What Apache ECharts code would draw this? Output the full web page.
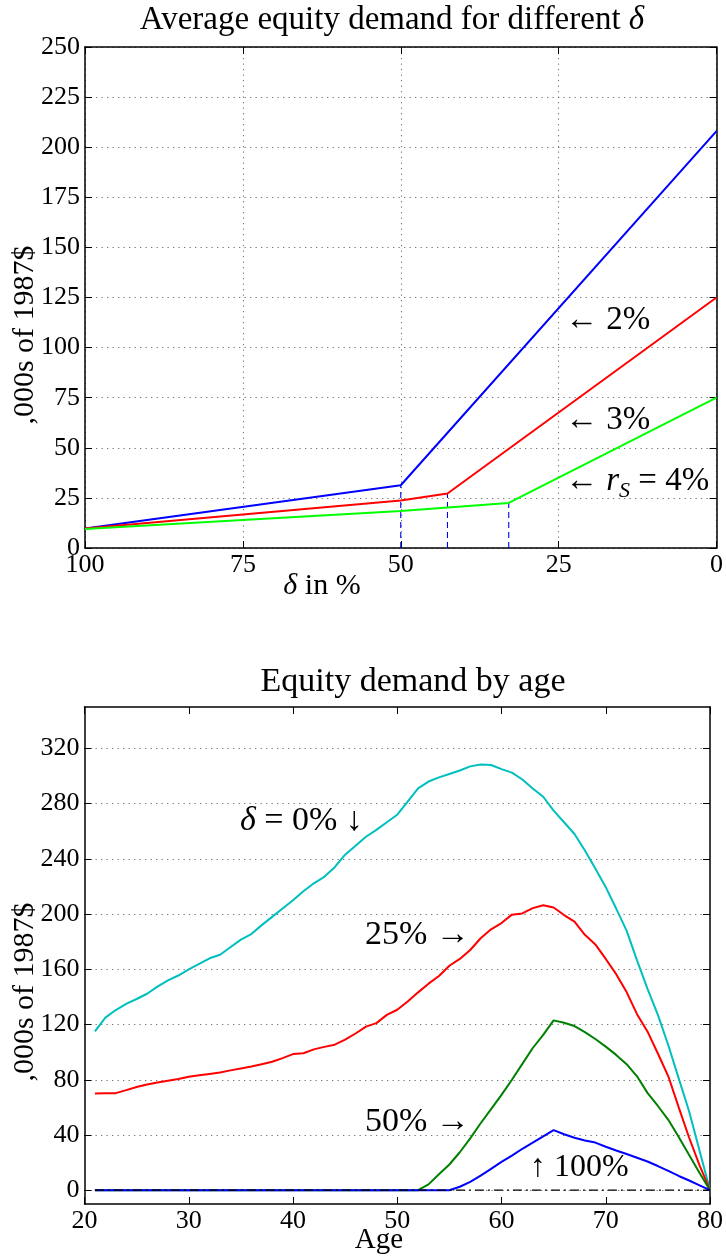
<!DOCTYPE html>
<html><head><meta charset="utf-8">
<script src="https://cdn.jsdelivr.net/npm/echarts@6/dist/echarts.min.js"></script>
<style>html,body{margin:0;padding:0;background:#fff}#c{width:726px;height:1258px}</style>
</head><body><div id="c"></div>
<script>
// ---------- Top chart data: average equity demand vs delta ----------
const deltaBlue = [100, 50, 0];
const valBlue = [9.7, 31.3, 208];          // r_S = 2%
const deltaRed = [100, 50, 42.6, 0];
const valRed = [9.7, 23.7, 27.2, 125];      // r_S = 3%
const deltaGreen = [100, 50, 32.9, 0];
const valGreen = [9.5, 18.5, 22.5, 75];     // r_S = 4%
const kinkDelta = [50, 42.6, 32.9];
const kinkValue = [31.3, 27.2, 22.5];

// ---------- Bottom chart data: equity demand by age ----------
const ages = [21,22,23,24,25,26,27,28,29,30,31,32,33,34,35,36,37,38,39,40,
              41,42,43,44,45,46,47,48,49,50,51,52,53,54,55,56,57,58,59,60,
              61,62,63,64,65,66,67,68,69,70,71,72,73,74,75,76,77,78,79,80];
const d0 = [115,125,130.5,135,138.5,142.3,147.5,152,155.5,160,164,168,170.5,176,181.5,185.5,192,198,204,210,
            216.5,222.3,227,234,243,249.5,256,261,266.5,272,281.5,291,296,299,301.5,304,307,308.3,308,305,
            302.5,297.5,291,285,275,266.5,258,246,233,219.5,204,188,166.5,146,127,105,81,57,28.5,0];
const d25 = [70.1,70.2,70.3,72.5,74.8,76.5,78,79.3,80.5,82.2,83.2,84.2,85.2,86.8,88.2,89.6,91.3,93,95.7,98.6,
             99.2,102,103.8,105.4,109,113.5,118.5,121,127,130.7,136.7,143.3,149.6,155.2,162.6,167.5,174,182.5,189,193.5,
             199.6,200.5,204.3,206.4,204.8,199.3,194.6,185,178,167.5,156.5,143.5,127.5,115,99,82.5,60,38,18,0];
const d50 = [0,0,0,0,0,0,0,0,0,0,0,0,0,0,0,0,0,0,0,0,
             0,0,0,0,0,0,0,0,0,0,0,0,4.2,11.5,18.6,27.5,37.5,48.5,58.7,69,
             80,91.5,103,112.5,123,121.3,118.9,114.5,109.5,104,98,91.3,82.5,70.5,61,51,38.6,25.5,12.5,0];
const d100 = [0,0,0,0,0,0,0,0,0,0,0,0,0,0,0,0,0,0,0,0,
              0,0,0,0,0,0,0,0,0,0,0,0,0,0,0,2.5,6,10.5,15.5,20.5,
              25,30,34.5,39,43.5,40.5,38,36,34.5,31.5,28.8,26.2,23.5,20.8,17.5,14,10.3,7,3.5,0];
const zeroLine = ages.map(() => 0);

const botYTicks = [0, 40, 80, 120, 160, 200, 240, 280, 320];

const FONT = 'Liberation Serif';
const pairs = (xs, ys) => xs.map((x, i) => [x, ys[i]]);

const grid = [
  {left: 85, right: 6, top: 47, height: 501},
  {left: 84.5, right: 11, top: 707, height: 497}
];
const gridLine = {show: true, lineStyle: {color: '#777', type: [1.3, 4.2], width: 1.1}};
const frameLine = {show: true, onZero: false, lineStyle: {color: '#000', width: 1.5}};
const tick = {show: true, inside: true, length: 7, lineStyle: {color: '#000', width: 1}};
const lab = {color: '#000', fontFamily: FONT, fontSize: 26};

const option = {
  animation: false,
  backgroundColor: '#fff',
  title: [
    {text: 'Average equity demand for different {i|δ}', left: 392, top: 4, textAlign: 'center', padding: 0,
     textStyle: {fontFamily: FONT, fontSize: 33, fontWeight: 'normal', color: '#000',
       rich: {i: {fontFamily: FONT, fontSize: 33, fontStyle: 'italic', color: '#000'}}}},
    {text: 'Equity demand by age', left: 413, top: 665, textAlign: 'center', padding: 0,
     textStyle: {fontFamily: FONT, fontSize: 34, fontWeight: 'normal', color: '#000'}}
  ],
  grid: grid,
  xAxis: [
    {type: 'value', gridIndex: 0, position: 'bottom', inverse: true, min: 0, max: 100, interval: 25,
     axisLine: frameLine, axisTick: tick, splitLine: gridLine,
     axisLabel: Object.assign({margin: 4, showMinLabel: true, showMaxLabel: true}, lab)},
    {type: 'value', gridIndex: 0, position: 'top', inverse: true, min: 0, max: 100, interval: 25,
     axisLine: frameLine, axisTick: tick, splitLine: {show: false}, axisLabel: {show: false}},
    {type: 'value', gridIndex: 1, position: 'bottom', min: 20, max: 80, interval: 10,
     axisLine: frameLine, axisTick: tick, splitLine: {show: false},
     axisLabel: Object.assign({margin: 4, showMinLabel: true, showMaxLabel: true}, lab)},
    {type: 'value', gridIndex: 1, position: 'top', min: 20, max: 80, interval: 10,
     axisLine: frameLine, axisTick: tick, splitLine: {show: false}, axisLabel: {show: false}}
  ],
  yAxis: [
    {type: 'value', gridIndex: 0, position: 'left', min: 0, max: 250, interval: 25,
     axisLine: frameLine, axisTick: tick, splitLine: gridLine,
     axisLabel: Object.assign({margin: 5}, lab)},
    {type: 'value', gridIndex: 0, position: 'right', min: 0, max: 250, interval: 25,
     axisLine: frameLine, axisTick: tick, splitLine: {show: false}, axisLabel: {show: false}},
    {type: 'value', gridIndex: 1, position: 'left', min: -10, max: 350,
     axisLine: frameLine, axisTick: Object.assign({customValues: botYTicks}, tick), splitLine: gridLine,
     axisLabel: Object.assign({margin: 5, customValues: botYTicks}, lab)},
    {type: 'value', gridIndex: 1, position: 'right', min: -10, max: 350,
     axisLine: frameLine, axisTick: Object.assign({customValues: botYTicks}, tick), splitLine: {show: false},
     axisLabel: {show: false, customValues: botYTicks}}
  ],
  series: [
    // top chart
    ...kinkDelta.map((d, i) => ({
      type: 'line', xAxisIndex: 0, yAxisIndex: 0, symbol: 'none', silent: true,
      data: [[d, 0], [d, kinkValue[i]]],
      lineStyle: {color: '#0000ff', width: 1.1, type: [6, 4]}
    })),
    {type: 'line', name: '2%', xAxisIndex: 0, yAxisIndex: 0, symbol: 'none', silent: true,
     data: pairs(deltaBlue, valBlue), lineStyle: {color: '#0000ff', width: 2}},
    {type: 'line', name: '3%', xAxisIndex: 0, yAxisIndex: 0, symbol: 'none', silent: true,
     data: pairs(deltaRed, valRed), lineStyle: {color: '#ff0000', width: 2}},
    {type: 'line', name: '4%', xAxisIndex: 0, yAxisIndex: 0, symbol: 'none', silent: true,
     data: pairs(deltaGreen, valGreen), lineStyle: {color: '#00ff00', width: 2}},
    // bottom chart
    {type: 'line', name: '0%', xAxisIndex: 2, yAxisIndex: 2, symbol: 'none', silent: true,
     data: pairs(ages, d0), lineStyle: {color: '#00bfbf', width: 2}},
    {type: 'line', name: '25%', xAxisIndex: 2, yAxisIndex: 2, symbol: 'none', silent: true,
     data: pairs(ages, d25), lineStyle: {color: '#ff0000', width: 2}},
    {type: 'line', name: '50%', xAxisIndex: 2, yAxisIndex: 2, symbol: 'none', silent: true,
     data: pairs(ages, d50), lineStyle: {color: '#008000', width: 2}},
    {type: 'line', name: '100%', xAxisIndex: 2, yAxisIndex: 2, symbol: 'none', silent: true,
     data: pairs(ages, d100), lineStyle: {color: '#0000ff', width: 2}},
    {type: 'line', name: 'zero', xAxisIndex: 2, yAxisIndex: 2, symbol: 'none', silent: true,
     data: pairs(ages, zeroLine), lineStyle: {color: '#000', width: 1.2, type: [9, 4, 2, 4]}}
  ],
  graphic: [
    {type: 'text', x: 25, y: 335, rotation: Math.PI / 2,
     style: {text: ',000s of 1987$', font: '30px "Liberation Serif"', fill: '#000', align: 'center', verticalAlign: 'middle'}},
    {type: 'text', x: 25, y: 992, rotation: Math.PI / 2,
     style: {text: ',000s of 1987$', font: '30px "Liberation Serif"', fill: '#000', align: 'center', verticalAlign: 'middle'}},
    {type: 'text', x: 322, y: 586,
     style: {text: '{i|δ} in %', font: '30px "Liberation Serif"', fill: '#000', align: 'center', verticalAlign: 'middle',
       rich: {i: {fontFamily: FONT, fontSize: 30, fontStyle: 'italic'}}}},
    {type: 'text', x: 379, y: 1240,
     style: {text: 'Age', font: '29px "Liberation Serif"', fill: '#000', align: 'center', verticalAlign: 'middle'}},
    {type: 'text', x: 565, y: 320,
     style: {text: '← 2%', font: '33px "Liberation Serif"', fill: '#000', align: 'left', verticalAlign: 'middle'}},
    {type: 'text', x: 565, y: 420,
     style: {text: '← 3%', font: '33px "Liberation Serif"', fill: '#000', align: 'left', verticalAlign: 'middle'}},
    {type: 'text', x: 565, y: 481,
     style: {text: '{t|← }{i|r}{s|S}{t| = 4%}', fill: '#000', align: 'left', verticalAlign: 'middle',
       rich: {t: {fontFamily: FONT, fontSize: 33, lineHeight: 42, verticalAlign: 'middle'},
              i: {fontFamily: FONT, fontSize: 33, fontStyle: 'italic', lineHeight: 42, verticalAlign: 'middle'},
              s: {fontFamily: FONT, fontSize: 22, fontStyle: 'italic', lineHeight: 19, verticalAlign: 'bottom'}}}},
    {type: 'text', x: 240, y: 821,
     style: {text: '{i|δ}{t| = 0% ↓}', fill: '#000', align: 'left', verticalAlign: 'middle',
       rich: {i: {fontFamily: FONT, fontSize: 34, fontStyle: 'italic'}, t: {fontFamily: FONT, fontSize: 34}}}},
    {type: 'text', x: 365, y: 935,
     style: {text: '25% →', font: '34px "Liberation Serif"', fill: '#000', align: 'left', verticalAlign: 'middle'}},
    {type: 'text', x: 365, y: 1122,
     style: {text: '50% →', font: '34px "Liberation Serif"', fill: '#000', align: 'left', verticalAlign: 'middle'}},
    {type: 'text', x: 530, y: 1168,
     style: {text: '↑ 100%', font: '32px "Liberation Serif"', fill: '#000', align: 'left', verticalAlign: 'middle'}}
  ]
};
const chart = echarts.init(document.getElementById('c'), null, {renderer: 'canvas'});
chart.setOption(option);
</script></body></html>
